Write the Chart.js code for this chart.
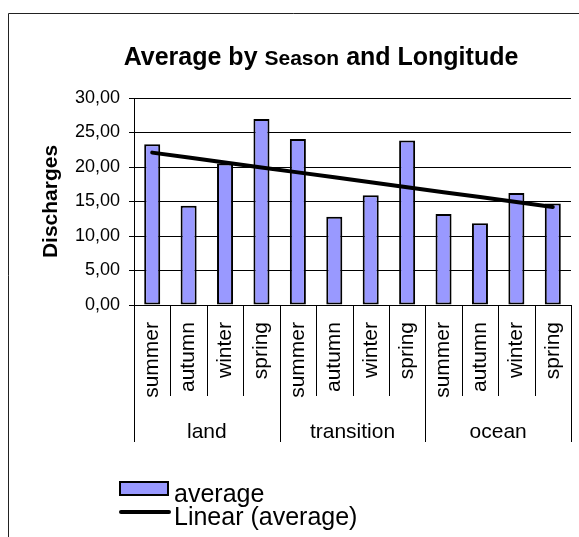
<!DOCTYPE html>
<html>
<head>
<meta charset="utf-8">
<script src="https://cdn.jsdelivr.net/npm/chart.js@4/dist/chart.umd.min.js"></script>
<style>
  html, body { margin: 0; padding: 0; background: #fff; }
  #wrap { width: 579px; height: 537px; position: relative; }
</style>
</head>
<body>
<div id="wrap"><canvas id="c" width="579" height="537"></canvas></div>
<script>
// Longitude zones and seasons (x axis has two levels: season inside zone)
const groups = ['land', 'transition', 'ocean'];
const seasons = ['summer', 'autumn', 'winter', 'spring'];

// Average discharges per season, one array per zone
const landAvg = [23.3, 14.4, 20.5, 26.95];
const transitionAvg = [24.05, 12.8, 15.9, 23.85];
const oceanAvg = [13.2, 11.85, 16.25, 14.7];

// Value axis ticks
const yTicks = [0, 5, 10, 15, 20, 25, 30];

const FONT = '"Liberation Sans", Arial, Helvetica, sans-serif';

// Flatten into the 12 categories of the chart
const labels = [];
groups.forEach(() => seasons.forEach(s => labels.push(s)));
const averages = [].concat(landAvg, transitionAvg, oceanAvg);

// Linear trendline (least squares) of the averages
const n = averages.length;
const xs = averages.map((_, i) => i + 1);
const mx = xs.reduce((a, b) => a + b, 0) / n;
const my = averages.reduce((a, b) => a + b, 0) / n;
let sxy = 0, sxx = 0;
xs.forEach((x, i) => { sxy += (x - mx) * (averages[i] - my); sxx += (x - mx) * (x - mx); });
const slope = sxy / sxx;
const intercept = my - slope * mx;
const trend = xs.map(x => intercept + slope * x);

const fmt = v => v.toFixed(2).replace('.', ',');

// Frame, title, two-level category separators, zone labels and legend
const decorations = {
  id: 'decorations',
  beforeDraw(chart) {
    const ctx = chart.ctx;
    ctx.save();
    ctx.fillStyle = '#fff';
    ctx.fillRect(0, 0, chart.width, chart.height);
    ctx.strokeStyle = '#222';
    ctx.lineWidth = 1;
    ctx.beginPath();
    ctx.moveTo(8.5, chart.height);
    ctx.lineTo(8.5, 13.5);
    ctx.lineTo(chart.width, 13.5);
    ctx.stroke();
    ctx.restore();
  },
  afterDraw(chart) {
    const ctx = chart.ctx;
    const area = chart.chartArea;
    const xs = chart.scales.x;
    ctx.save();

    // Title with a smaller "Season"
    const parts = [
      { t: 'Average by ', s: 25 },
      { t: 'Season', s: 21 },
      { t: ' and Longitude', s: 25 }
    ];
    let total = 0;
    parts.forEach(p => { ctx.font = 'bold ' + p.s + 'px ' + FONT; p.w = ctx.measureText(p.t).width; total += p.w; });
    let tx = 321 - total / 2;
    ctx.fillStyle = '#000';
    ctx.textBaseline = 'alphabetic';
    ctx.textAlign = 'left';
    parts.forEach(p => { ctx.font = 'bold ' + p.s + 'px ' + FONT; ctx.fillText(p.t, tx, 65); tx += p.w; });

    // Category separators below the axis
    const cw = (xs.right - xs.left) / labels.length;
    ctx.strokeStyle = '#000';
    ctx.lineWidth = 1;
    for (let i = 0; i <= labels.length; i++) {
      const px = Math.round(xs.left + i * cw) + 0.5;
      const len = (i % seasons.length === 0) ? 137 : 91;
      ctx.beginPath();
      ctx.moveTo(px, area.bottom);
      ctx.lineTo(px, area.bottom + len);
      ctx.stroke();
    }

    // Zone labels
    ctx.font = '21px ' + FONT;
    ctx.textAlign = 'center';
    ctx.textBaseline = 'middle';
    groups.forEach((g, gi) => {
      const cx = xs.left + (gi * seasons.length + seasons.length / 2) * cw;
      ctx.fillText(g, cx, 432);
    });

    // Legend
    const bar = chart.data.datasets[0];
    const line = chart.data.datasets[1];
    ctx.fillStyle = bar.backgroundColor;
    ctx.fillRect(120, 482, 48, 13);
    ctx.strokeStyle = '#000';
    ctx.lineWidth = 2;
    ctx.strokeRect(120, 482, 48, 13);
    ctx.lineWidth = 4;
    ctx.lineCap = 'round';
    ctx.beginPath();
    ctx.moveTo(121, 512);
    ctx.lineTo(169, 512);
    ctx.stroke();
    ctx.fillStyle = '#000';
    ctx.font = '25px ' + FONT;
    ctx.textAlign = 'left';
    ctx.textBaseline = 'alphabetic';
    ctx.fillText(bar.label, 174, 502);
    ctx.fillText(line.label, 174, 525);

    ctx.restore();
  }
};

new Chart(document.getElementById('c'), {
  data: {
    labels: labels,
    datasets: [
      {
        type: 'bar',
        label: 'average',
        data: averages,
        backgroundColor: '#9999ff',
        borderColor: '#000',
        borderWidth: 2,
        borderSkipped: false,
        categoryPercentage: 1,
        barPercentage: 0.44,
        order: 2
      },
      {
        type: 'line',
        label: 'Linear (average)',
        data: trend,
        borderColor: '#000',
        borderWidth: 4,
        borderCapStyle: 'round',
        pointRadius: 0,
        fill: false,
        tension: 0,
        order: 1
      }
    ]
  },
  options: {
    responsive: false,
    animation: false,
    devicePixelRatio: 1,
    layout: { padding: { top: 98, right: 8, left: 0, bottom: 0 } },
    plugins: {
      legend: { display: false },
      title: { display: false },
      tooltip: { enabled: false }
    },
    scales: {
      x: {
        type: 'category',
        offset: true,
        grid: { display: false, drawTicks: false },
        border: { display: false },
        ticks: {
          minRotation: 90,
          maxRotation: 90,
          autoSkip: false,
          padding: 17,
          color: '#000',
          font: { family: FONT, size: 21 }
        },
        afterFit(scale) {
          scale.height = 232;
          scale.paddingLeft = 0;
          scale.paddingRight = 0;
        }
      },
      y: {
        min: 0,
        max: 30,
        afterBuildTicks(scale) { scale.ticks = yTicks.map(v => ({ value: v })); },
        grid: { color: '#000', lineWidth: 1, tickLength: 5, drawTicks: true },
        border: { display: true, color: '#000', width: 1 },
        ticks: {
          padding: 9,
          color: '#000',
          font: { family: FONT, size: 18 },
          callback: v => fmt(v)
        },
        title: {
          display: true,
          text: 'Discharges',
          color: '#000',
          font: { family: FONT, size: 21, weight: 'bold' },
          padding: { top: 39, bottom: 0 }
        },
        afterFit(scale) {
          scale.width = 134;
          scale.paddingTop = 0;
          scale.paddingBottom = 0;
        }
      }
    }
  },
  plugins: [decorations]
});
</script>
</body>
</html>
